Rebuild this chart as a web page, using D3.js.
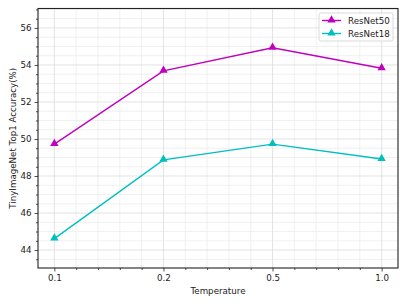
<!DOCTYPE html>
<html>
<head>
<meta charset="utf-8">
<script src="https://cdn.jsdelivr.net/npm/d3@7"></script>
<style>
  html, body { margin: 0; padding: 0; background: #fff; }
  svg { display: block; font-family: "DejaVu Sans", sans-serif; }
</style>
</head>
<body>
<svg id="chart" width="407" height="305"></svg>
<script>
// data
const temperatures = ['0.1', '0.2', '0.5', '1.0'];
const resnet50 = [49.72, 53.68, 54.93, 53.82];
const resnet18 = [44.62, 48.87, 49.72, 48.92];
const yTicks = [44, 46, 48, 50, 52, 54, 56];

const series = [
  { name: 'ResNet50', values: resnet50, color: '#bf00bf' },
  { name: 'ResNet18', values: resnet18, color: '#00bfbf' },
];

const W = 407, H = 305;
const m = { left: 38, right: 9, top: 8.5, bottom: 37 };
const svg = d3.select('#chart');

const x = d3.scaleLinear().domain([-0.15, 3.15]).range([m.left, W - m.right]);
const y = d3.scaleLinear().domain([43.03, 57.05]).range([H - m.bottom, m.top]);

// minor positions
const xMinor = d3.range(0, 3.001, 0.2).filter((v) => Math.abs(v - Math.round(v)) > 1e-6);
const yMinor = d3.range(43.5, 57.01, 0.5).filter((v) => !yTicks.includes(v));

const grid = svg.append('g');
grid.selectAll('line.gx').data(xMinor).join('line')
  .attr('x1', (d) => x(d)).attr('x2', (d) => x(d))
  .attr('y1', m.top).attr('y2', H - m.bottom)
  .attr('stroke', '#ececec').attr('stroke-width', 0.8);
grid.selectAll('line.gy').data(yMinor).join('line')
  .attr('x1', m.left).attr('x2', W - m.right)
  .attr('y1', (d) => y(d)).attr('y2', (d) => y(d))
  .attr('stroke', '#ececec').attr('stroke-width', 0.8);
grid.selectAll('line.gX').data(d3.range(temperatures.length)).join('line')
  .attr('x1', (d) => x(d)).attr('x2', (d) => x(d))
  .attr('y1', m.top).attr('y2', H - m.bottom)
  .attr('stroke', '#dcdcdc').attr('stroke-width', 0.8);
grid.selectAll('line.gY').data(yTicks).join('line')
  .attr('x1', m.left).attr('x2', W - m.right)
  .attr('y1', (d) => y(d)).attr('y2', (d) => y(d))
  .attr('stroke', '#dcdcdc').attr('stroke-width', 0.8);

// axes
const xAxis = d3.axisBottom(x).tickValues(d3.range(temperatures.length))
  .tickFormat((i) => temperatures[i]).tickSize(3.5).tickPadding(3);
const xAxisMinor = d3.axisBottom(x).tickValues(xMinor).tickFormat('').tickSize(2);
const yAxis = d3.axisLeft(y).tickValues(yTicks).tickSize(3.5).tickPadding(3);
const yAxisMinor = d3.axisLeft(y).tickValues(yMinor).tickFormat('').tickSize(2);

function styleAxis(g) {
  g.select('.domain').remove();
  g.selectAll('line').attr('stroke', '#222').attr('stroke-width', 0.8);
  g.selectAll('text').attr('fill', '#222').style('font-size', '8.7px')
    .style('font-family', '"DejaVu Sans", sans-serif');
}

svg.append('g').attr('transform', `translate(0,${H - m.bottom})`).call(xAxis).call(styleAxis);
svg.append('g').attr('transform', `translate(0,${H - m.bottom})`).call(xAxisMinor).call(styleAxis);
svg.append('g').attr('transform', `translate(${m.left},0)`).call(yAxis).call(styleAxis);
svg.append('g').attr('transform', `translate(${m.left},0)`).call(yAxisMinor).call(styleAxis);

// series
const line = d3.line().x((d, i) => x(i)).y((d) => y(d));
const tri = d3.symbol().type(d3.symbolTriangle).size(30);

series.forEach((s) => {
  svg.append('path').datum(s.values)
    .attr('d', line).attr('fill', 'none')
    .attr('stroke', s.color).attr('stroke-width', 1.4);
  svg.append('g').selectAll('path').data(s.values).join('path')
    .attr('d', tri)
    .attr('transform', (d, i) => `translate(${x(i)},${y(d) - 0.5})`)
    .attr('fill', s.color);
});

// frame
svg.append('rect')
  .attr('x', m.left).attr('y', m.top)
  .attr('width', W - m.right - m.left).attr('height', H - m.bottom - m.top)
  .attr('fill', 'none').attr('stroke', '#222').attr('stroke-width', 1.1);

// labels
svg.append('text').attr('x', (m.left + W - m.right) / 2).attr('y', 294)
  .attr('text-anchor', 'middle').style('font-size', '8.7px').attr('fill', '#222')
  .text('Temperature');
svg.append('text')
  .attr('transform', `translate(16,${(m.top + H - m.bottom) / 2}) rotate(-90)`)
  .attr('text-anchor', 'middle').style('font-size', '8.7px').attr('fill', '#222')
  .text('TinyImageNet Top1 Accuracy(%)');

// legend
const lg = svg.append('g').attr('transform', 'translate(319,13)');
lg.append('rect').attr('width', 74).attr('height', 28).attr('rx', 2)
  .attr('fill', '#fff').attr('fill-opacity', 0.85)
  .attr('stroke', '#d0d0d0').attr('stroke-width', 0.8);
series.forEach((s, i) => {
  const row = lg.append('g').attr('transform', `translate(0,${7.5 + i * 13})`);
  row.append('line').attr('x1', 3).attr('x2', 22).attr('stroke', s.color).attr('stroke-width', 1.4);
  row.append('path').attr('d', tri).attr('transform', 'translate(12.5,-0.5)').attr('fill', s.color);
  row.append('text').attr('x', 29).attr('y', 3.2).style('font-size', '8.7px').attr('fill', '#222')
    .text(s.name);
});
</script>
</body>
</html>
